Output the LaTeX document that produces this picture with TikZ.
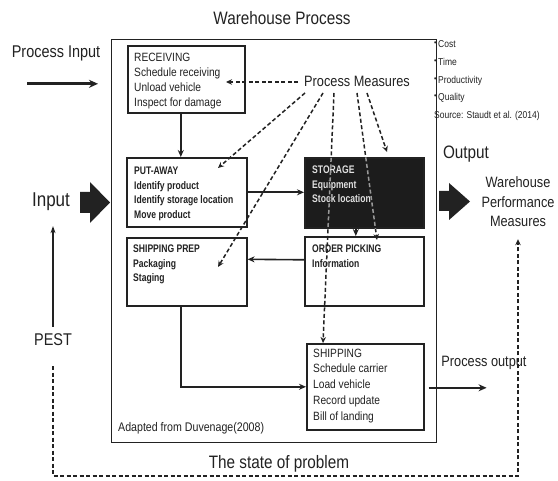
\documentclass[tikz,border=0pt]{standalone}
\usepackage{fontspec}
\setmainfont{Liberation Sans}
\newfontfamily\nf[FakeStretch=0.85]{Liberation Sans}
\newfontfamily\nbf[FakeStretch=0.78]{Liberation Sans Bold}
\usetikzlibrary{arrows.meta,calc}
\definecolor{ink}{HTML}{222222}
\definecolor{blk}{HTML}{1C1C1C}
\newcommand{\smbul}{\raisebox{2pt}{\fontsize{8}{8}\selectfont •}\,}
\tikzset{
  box/.style={draw=ink, line width=1.6pt, inner sep=0pt, anchor=north west},
  txt/.style={inner sep=0pt, align=left, anchor=north west, text=ink, font=\nf\fontsize{12}{15}\selectfont},
  btxt/.style={inner sep=0pt, align=left, anchor=north west, text=ink, font=\nbf\fontsize{11}{14.5}\selectfont},
  lbl/.style={inner sep=0pt, text=ink},
  arr/.style={draw=ink, line width=1.6pt, -{Stealth[length=7pt,width=6pt]}},
  dsh/.style={draw=ink, line width=1.5pt, dash pattern=on 4pt off 2.5pt, -{Stealth[length=6pt,width=5.5pt]}},
}
\begin{document}
\begin{tikzpicture}[x=1pt,y=-1pt]
\useasboundingbox (0,0) rectangle (558,481);
\fill[white] (0,0) rectangle (558,481);

% main box
\node[draw=ink, line width=1.4pt, anchor=north west, minimum width=325pt, minimum height=403pt, inner sep=0pt] (main) at (111,39) {};

% title and labels
\node[lbl, font=\nf\fontsize{18}{20}\selectfont] (title) at (282,18) {Warehouse Process};
\node[lbl, font=\nf\fontsize{17}{20}\selectfont] (pin) at (56,53) {Process Input};
\node[lbl, font=\nf\fontsize{15}{18}\selectfont] (pm) at (357,81) {Process Measures};
\node[lbl, font=\nf\fontsize{20}{22}\selectfont] (input) at (51,202) {Input};
\node[lbl, font=\nf\fontsize{18}{20}\selectfont] (output) at (466,154) {Output};
\node[lbl, align=center, font=\nf\fontsize{15}{19.5}\selectfont] (wpm) at (518,202) {Warehouse\\Performance\\Measures};
\node[lbl, font=\nf\fontsize{17}{20}\selectfont] (pest) at (53,340) {PEST};
\node[lbl, font=\nf\fontsize{15}{18}\selectfont] (pout) at (484,363) {Process output};
\node[lbl, font=\nf\fontsize{18}{20}\selectfont] (state) at (279,464) {The state of problem};
\node[lbl, anchor=west, font=\nf\fontsize{12.5}{15}\selectfont] (adapt) at (118,428) {Adapted from Duvenage(2008)};
\node[lbl, anchor=north west, align=left, font=\nf\fontsize{10}{17.75}\selectfont] (list) at (434,40.5)
  {\smbul Cost\\
   \smbul Time\\
   \smbul Productivity\\
   \smbul Quality\\
   Source: Staudt et al. (2014)};

% process boxes
\node[box, minimum width=117pt, minimum height=67pt] (rec) at (127,45) {};
\node[box, minimum width=120pt, minimum height=69pt] (put) at (126,157) {};
\node[box, fill=blk, minimum width=119pt, minimum height=70pt] (sto) at (304,157) {};
\node[box, minimum width=120pt, minimum height=68pt] (sp) at (126,237) {};
\node[box, minimum width=119pt, minimum height=69pt] (op) at (304,236) {};
\node[box, minimum width=117pt, minimum height=86pt] (ship) at (306,343) {};

\node[txt] (rect) at (134,52.7) {RECEIVING\\Schedule receiving\\Unload vehicle\\Inspect for damage};
\node[btxt] (putt) at (134,166.8) {PUT-AWAY\\Identify product\\Identify storage location\\Move product};
\node[btxt, text=white!88!black] (stot) at (312,166) {STORAGE\\Equipment\\Stock location};
\node[btxt] (spt) at (133,245) {SHIPPING PREP\\Packaging\\Staging};
\node[btxt] (opt) at (312,245) {ORDER PICKING\\Information};
\node[txt, font=\nf\fontsize{12}{15.7}\selectfont] (shipt) at (313,348.7) {SHIPPING\\Schedule carrier\\Load vehicle\\Record update\\Bill of landing};

% fat arrows
\fill[ink] (80,192) -- (90,192) -- (90,182) -- (110,202.5) -- (90,223) -- (90,213) -- (80,213) -- cycle;
\fill[ink] (439,191) -- (449,191) -- (449,183) -- (470,201.5) -- (449,220) -- (449,211) -- (439,211) -- cycle;

% solid connectors
\draw[draw=ink, line width=2.8pt, -{Stealth[length=9pt,width=8pt]}] ($(pin.south)+(-29,23)$) -- ($(pin.south)+(42,23)$);
\draw[arr] ($(rec.south)+(-5.5,0)$) -- ($(put.north)+(-6,0)$);
\draw[arr] (put.east) -- (put.east -| sto.west);
\draw[arr] ($(sto.south)+(-8.5,0)$) -- ($(op.north)+(-8.5,0)$);
\draw[arr] ($(op.west)+(0,-11.5)$) -- ($(sp.east)+(0,-12.5)$);
\draw[arr] ($(sp.south)+(-6,0)$) |- (ship.west);
\draw[draw=ink, line width=2pt, -{Stealth[length=8pt,width=7pt]}] ($(ship.east)+(4,1)$) -- ($(ship.east)+(62,1)$);
\draw[draw=ink, line width=1.2pt, -{Stealth[length=7pt,width=5pt]}, shorten <=7pt, shorten >=15pt] (pest.north) -- (pest.north |- input.south);

% feedback dashed loop
\coordinate (fb) at (300,476);
\draw[dsh, shorten <=20pt, shorten >=12pt] (pest.south) |- (fb) -| (wpm.south);

% process measures dashed arrows
\coordinate (tRec) at (226,82);
\coordinate (tPut) at (218,168);
\coordinate (tSp) at (218,267);
\coordinate (tOp) at (377,240);
\coordinate (tSto) at (387,152);
\coordinate (s1) at (305,93);
\coordinate (s2) at (323,93);
\coordinate (s3) at (334,93);
\coordinate (s4) at (357,93);
\coordinate (s5) at (367,93);
\draw[dsh] ($(pm.west)+(-6,1)$) -- (tRec);
\draw[dsh] (s1) -- (tPut);
\draw[dsh] (s2) -- (tSp);
\draw[dsh] (s3) -- (ship.north -| 323,0);
\draw[dsh] (s4) -- (tOp);
\draw[dsh] (s5) -- (tSto);
\begin{scope}
  \clip (sto.north west) rectangle (sto.south east);
  \draw[dsh, draw=gray!80, -] (s3) -- (ship.north -| 323,0);
  \draw[dsh, draw=gray!80, -] (s4) -- (tOp);
\end{scope}
\end{tikzpicture}
\end{document}
